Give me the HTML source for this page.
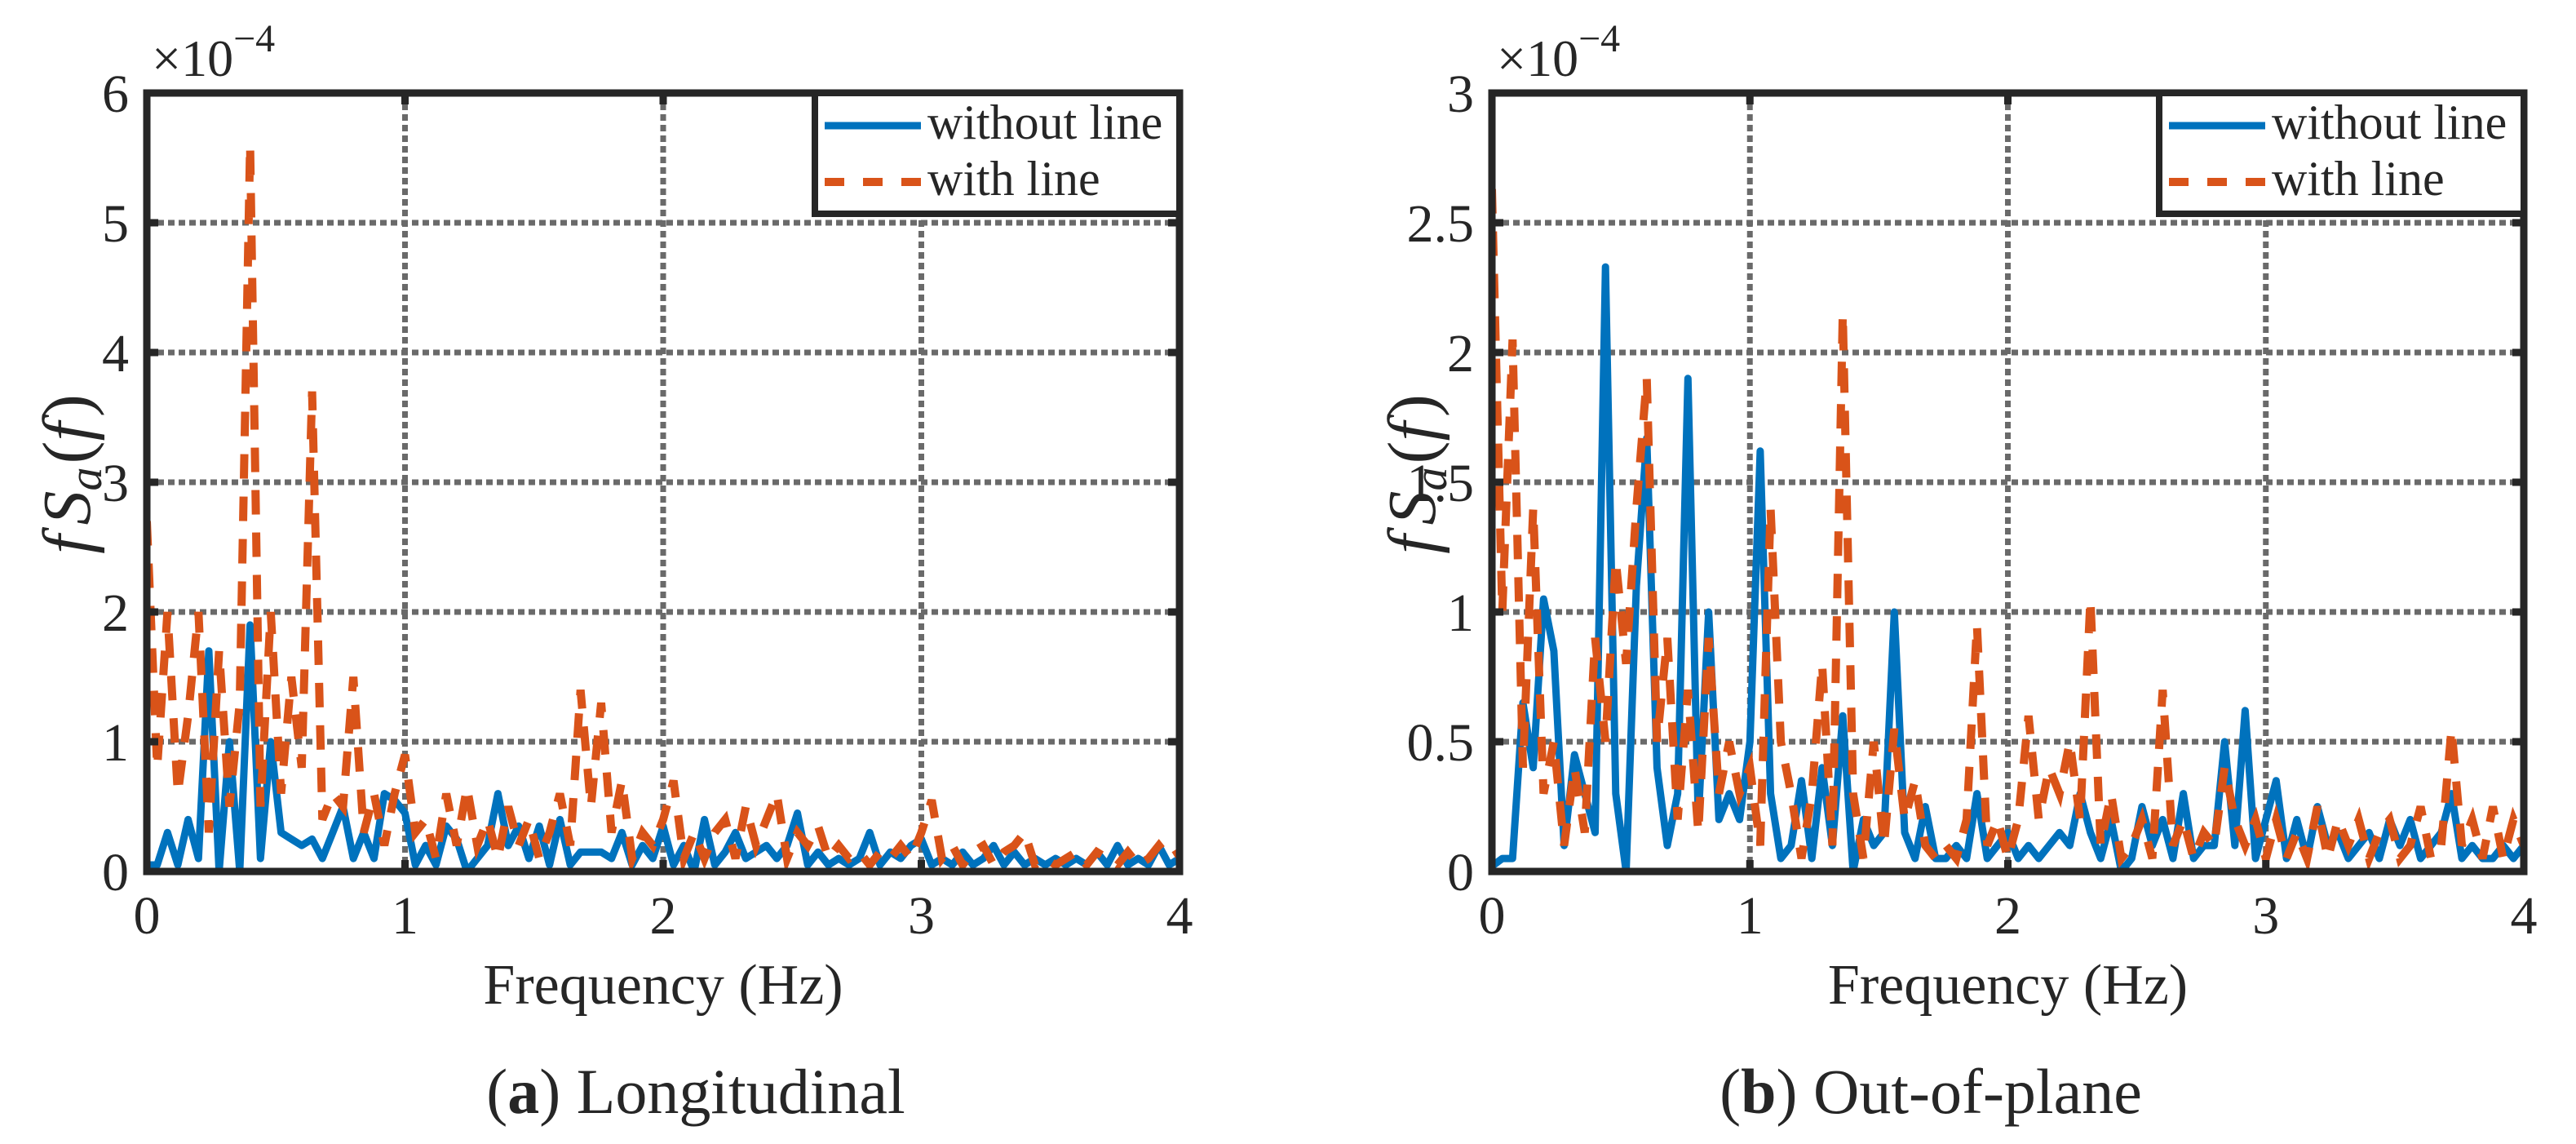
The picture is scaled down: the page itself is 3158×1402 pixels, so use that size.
<!DOCTYPE html>
<html><head><meta charset="utf-8">
<style>
html,body{margin:0;padding:0;background:#fff;}
svg{display:block;}
text{font-family:"Liberation Serif","DejaVu Serif",serif;fill:#262626;}
</style></head>
<body>
<svg id="fig" width="3158" height="1402" viewBox="0 0 3158 1402" xmlns="http://www.w3.org/2000/svg">
<rect x="0" y="0" width="3158" height="1402" fill="#fff"/>
</svg>
<script>
// shared frequency grid (Hz)
const freqs = [];
for (let i = 0; i <= 100; i++) freqs.push(+(i * 0.04).toFixed(2));
const xTickLabels = ["0","1","2","3","4"];
const xTickValues = [0,1,2,3,4];
const leftYTicks = [0,1,2,3,4,5,6];
const leftYTickLabels = ["0","1","2","3","4","5","6"];
const rightYTicks = [0,0.5,1,1.5,2,2.5,3];
const rightYTickLabels = ["0","0.5","1","1.5","2","2.5","3"];
const seriesNames = ["without line","with line"];

const leftWithout = [0.05,0.05,0.3,0.05,0.4,0.1,1.7,0.0,1.0,0.0,1.9,0.1,1.0,0.3,0.25,0.2,0.25,0.1,0.3,0.5,0.1,0.3,0.1,0.6,0.55,0.45,0.05,0.2,0.05,0.35,0.25,0.0,0.1,0.2,0.6,0.2,0.35,0.1,0.35,0.05,0.4,0.05,0.15,0.15,0.15,0.1,0.3,0.05,0.2,0.1,0.35,0.05,0.2,0.0,0.4,0.05,0.15,0.3,0.1,0.15,0.2,0.1,0.2,0.45,0.05,0.15,0.05,0.1,0.05,0.1,0.3,0.05,0.15,0.1,0.2,0.25,0.05,0.1,0.05,0.15,0.05,0.1,0.2,0.05,0.15,0.05,0.1,0.05,0.1,0.05,0.1,0.05,0.15,0.05,0.2,0.05,0.1,0.05,0.2,0.05,0.1];
const leftWith = [2.7,0.8,2.0,0.6,1.2,2.0,0.3,1.7,0.5,1.3,5.6,0.5,2.0,0.6,1.5,0.8,3.7,0.4,0.6,0.5,1.5,0.3,0.6,0.2,0.6,0.9,0.3,0.4,0.1,0.6,0.2,0.65,0.2,0.4,0.1,0.5,0.2,0.4,0.1,0.3,0.6,0.2,1.4,0.5,1.3,0.3,0.7,0.1,0.3,0.2,0.4,0.7,0.1,0.3,0.1,0.3,0.4,0.1,0.5,0.2,0.4,0.6,0.1,0.3,0.2,0.35,0.1,0.2,0.1,0.15,0.05,0.15,0.1,0.2,0.1,0.3,0.55,0.1,0.2,0.05,0.15,0.2,0.05,0.15,0.2,0.3,0.05,0.1,0.05,0.1,0.15,0.05,0.15,0.1,0.05,0.15,0.05,0.1,0.2,0.1,0.15];
const rightWithout = [0.02,0.05,0.05,0.65,0.4,1.05,0.85,0.1,0.45,0.3,0.15,2.33,0.3,0.0,1.1,1.67,0.4,0.1,0.3,1.9,0.2,1.0,0.2,0.3,0.2,0.5,1.62,0.3,0.05,0.1,0.35,0.05,0.4,0.1,0.6,0.0,0.2,0.1,0.15,1.0,0.15,0.05,0.25,0.05,0.05,0.1,0.05,0.3,0.05,0.1,0.15,0.05,0.1,0.05,0.1,0.15,0.1,0.3,0.15,0.05,0.2,0.0,0.05,0.25,0.1,0.2,0.05,0.3,0.05,0.1,0.1,0.5,0.1,0.62,0.05,0.2,0.35,0.05,0.2,0.05,0.25,0.1,0.15,0.05,0.1,0.15,0.05,0.2,0.1,0.2,0.05,0.1,0.15,0.3,0.05,0.1,0.05,0.05,0.1,0.05,0.1];
const rightWith = [2.63,1.0,2.05,0.4,1.4,0.3,0.5,0.1,0.4,0.15,0.9,0.5,1.2,0.8,1.4,1.9,0.5,0.9,0.2,0.7,0.15,0.9,0.3,0.5,0.3,0.4,0.1,1.4,0.5,0.3,0.05,0.3,0.8,0.1,2.15,0.3,0.05,0.5,0.1,0.55,0.2,0.35,0.1,0.05,0.1,0.05,0.2,0.95,0.1,0.2,0.05,0.2,0.6,0.2,0.4,0.3,0.5,0.2,1.05,0.1,0.3,0.05,0.1,0.2,0.05,0.7,0.1,0.2,0.05,0.15,0.1,0.4,0.2,0.1,0.2,0.05,0.2,0.05,0.15,0.05,0.25,0.05,0.2,0.1,0.2,0.05,0.15,0.2,0.05,0.1,0.25,0.05,0.1,0.55,0.1,0.2,0.05,0.25,0.05,0.2,0.1];

const NS = "http://www.w3.org/2000/svg";
const svg = document.getElementById("fig");
function mk(tag, attrs, parent) {
  const e = document.createElementNS(NS, tag);
  for (const k in attrs) e.setAttribute(k, attrs[k]);
  (parent || svg).appendChild(e);
  return e;
}

function panel(id, x0, x1, y0, y1, yMax, yTicks, yLabels, blue, orange, legendLeft, caption, capX, boldLetter) {
  const g = mk("g", {});
  
  
  const sx = v => x0 + (v / 4) * (x1 - x0);
  const sy = v => y1 - (v / yMax) * (y1 - y0);
  const grid = mk("g", {stroke: "#6a6a6a", "stroke-width": 7, "stroke-dasharray": "8 5", fill: "none"}, g);
  
  
  xTickValues.forEach(v => { if (v > 0 && v < 4) mk("line", {x1: sx(v), x2: sx(v), y1: y0, y2: y1}, grid); });
  yTicks.forEach(v => { if (v > 0 && v < yMax) mk("line", {x1: x0, x2: x1, y1: sy(v), y2: sy(v)}, grid); });
  const cp = mk("clipPath", {id: id + "-clip"}, g);
  mk("rect", {x: x0, y: y0, width: x1 - x0, height: y1 - y0}, cp);
  const pts = arr => arr.map((v, i) => sx(freqs[i]).toFixed(1) + "," + sy(v).toFixed(1)).join(" ");
  const lb = mk("polyline", {points: pts(blue), fill: "none", stroke: "#0072BD", "stroke-width": 9, "stroke-linejoin": "round", "clip-path": "url(#" + id + "-clip)"}, g);
  
  
  const lo = mk("polyline", {points: pts(orange), fill: "none", stroke: "#D95319", "stroke-width": 10, "stroke-dasharray": "30 22", "clip-path": "url(#" + id + "-clip)"}, g);
  
  
  const box = mk("rect", {x: x0, y: y0, width: x1 - x0, height: y1 - y0, fill: "none", stroke: "#262626", "stroke-width": 9}, g);
  
  
  const tk = mk("g", {stroke: "#262626", "stroke-width": 9}, g);
  
  
  xTickValues.forEach(v => { mk("line", {x1: sx(v), x2: sx(v), y1: y1, y2: y1 - 14}, tk); mk("line", {x1: sx(v), x2: sx(v), y1: y0, y2: y0 + 14}, tk); });
  yTicks.forEach(v => { mk("line", {x1: x0, x2: x0 + 14, y1: sy(v), y2: sy(v)}, tk); mk("line", {x1: x1, x2: x1 - 14, y1: sy(v), y2: sy(v)}, tk); });
  xTickValues.forEach((v, i) => {
    const t = mk("text", {x: sx(v), y: y1 + 76, "font-size": 66, "text-anchor": "middle"}, g);
    t.textContent = xTickLabels[i];
    
    
  });
  yTicks.forEach((v, i) => {
    const t = mk("text", {x: x0 - 22, y: sy(v) + 23, "font-size": 66, "text-anchor": "end"}, g);
    t.textContent = yLabels[i];
    
    
  });
  const ex = mk("text", {x: x0 + 6, y: 93, "font-size": 64}, g);
  ex.innerHTML = '×10<tspan dy="-30" font-size="48">−4</tspan>';
  
  
  const xt = mk("text", {x: (x0 + x1) / 2, y: y1 + 162, "font-size": 70, "text-anchor": "middle"}, g);
  xt.textContent = "Frequency (Hz)";
  
  
  const yt = mk("text", {x: 0, y: 0, "font-size": 84, "text-anchor": "middle", transform: "translate(" + (x0 - 70) + "," + ((y0 + y1) / 2 - 10) + ") rotate(-90)", "font-style": "italic"}, g);
  yt.innerHTML = 'f<tspan dx="12">S</tspan><tspan dy="14" font-size="58">a</tspan><tspan dy="-14" dx="4" font-style="normal">(</tspan>f<tspan dx="6" font-style="normal">)</tspan>';
  
  
  const lg = mk("g", {}, g);
  
  
  mk("rect", {x: legendLeft, y: y0, width: x1 - legendLeft, height: 148, fill: "#fff", stroke: "#262626", "stroke-width": 8}, lg);
  const l1 = mk("line", {x1: legendLeft + 12, x2: legendLeft + 130, y1: 154, y2: 154, stroke: "#0072BD", "stroke-width": 9}, lg);
  
  
  const l2 = mk("line", {x1: legendLeft + 12, x2: legendLeft + 130, y1: 223, y2: 223, stroke: "#D95319", "stroke-width": 10, "stroke-dasharray": "24 23"}, lg);
  
  
  const t1 = mk("text", {x: legendLeft + 138, y: 170, "font-size": 60, fill: "#000"}, lg);
  t1.textContent = seriesNames[0];
  
  
  const t2 = mk("text", {x: legendLeft + 138, y: 239, "font-size": 60, fill: "#000"}, lg);
  t2.textContent = seriesNames[1];
  
  
  const cap = mk("text", {x: capX, y: 1364, "font-size": 78, fill: "#000", "text-anchor": "middle"}, g);
  cap.innerHTML = '(<tspan font-weight="bold">' + boldLetter + '</tspan>) ' + caption;
  
  
}

panel("longitudinal", 180, 1446, 114, 1068, 6, leftYTicks, leftYTickLabels, leftWithout, leftWith, 999, "Longitudinal", 853, "a");
panel("out-of-plane", 1829, 3094, 114, 1068, 3, rightYTicks, rightYTickLabels, rightWithout, rightWith, 2647, "Out-of-plane", 2367, "b");
</script>
</body></html>
